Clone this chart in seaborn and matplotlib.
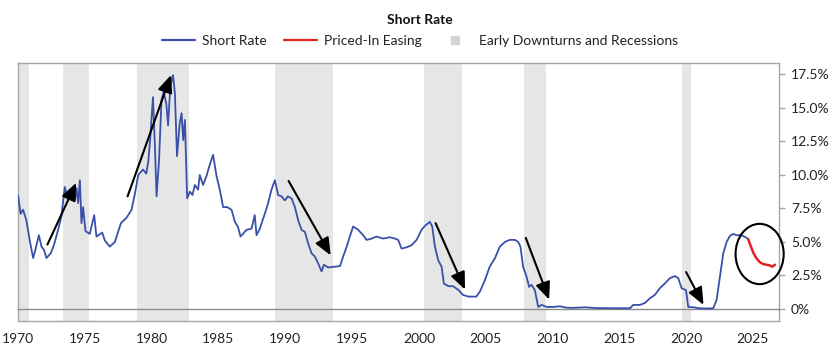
import matplotlib
matplotlib.use("Agg")
import matplotlib.pyplot as plt
from matplotlib.lines import Line2D
from matplotlib.patches import Ellipse
from matplotlib.ticker import FuncFormatter
import pandas as pd
import seaborn as sns

# short rate (year, %)
short_years = [
    1970.0, 1970.2, 1970.38, 1970.63, 1970.88, 1971.13, 1971.3, 1971.56, 1971.76, 1971.95,
    1972.13, 1972.45, 1972.7, 1973.0, 1973.25, 1973.5, 1973.75, 1974.0, 1974.25, 1974.38,
    1974.5, 1974.63, 1974.75, 1974.87, 1975.05, 1975.37, 1975.7, 1975.87, 1976.3, 1976.5,
    1976.87, 1977.25, 1977.7, 1978.12, 1978.5, 1978.75, 1979.0, 1979.36, 1979.6, 1979.75,
    1979.9, 1980.1, 1980.25, 1980.37, 1980.55, 1980.74, 1980.9, 1981.1, 1981.23, 1981.4,
    1981.6, 1981.74, 1981.9, 1982.1, 1982.24, 1982.36, 1982.49, 1982.66, 1982.86, 1983.06,
    1983.23, 1983.48, 1983.6, 1983.85, 1984.1, 1984.3, 1984.6, 1984.86, 1985.1, 1985.35,
    1985.65, 1985.98, 1986.23, 1986.47, 1986.65, 1987.1, 1987.48, 1987.72, 1987.85, 1988.1,
    1988.47, 1988.72, 1988.97, 1989.22, 1989.47, 1989.72, 1989.97, 1990.2, 1990.47, 1990.72,
    1990.97, 1991.22, 1991.47, 1991.71, 1991.97, 1992.22, 1992.46, 1992.72, 1992.89, 1993.2,
    1993.7, 1994.1, 1994.33, 1994.6, 1994.83, 1995.08, 1995.46, 1995.83, 1996.08, 1996.46,
    1996.83, 1997.33, 1997.83, 1998.2, 1998.45, 1998.7, 1999.08, 1999.45, 1999.83, 2000.2,
    2000.45, 2000.82, 2001.0, 2001.2, 2001.44, 2001.7, 2001.87, 2002.2, 2002.56, 2002.97,
    2003.3, 2003.7, 2004.3, 2004.57, 2004.94, 2005.3, 2005.7, 2006.06, 2006.44, 2006.8,
    2007.2, 2007.43, 2007.6, 2007.8, 2008.06, 2008.25, 2008.43, 2008.68, 2008.93, 2009.18,
    2009.56, 2010.05, 2010.55, 2011.0, 2011.5, 2012.0, 2012.5, 2013.0, 2013.5, 2014.0,
    2014.5, 2015.0, 2015.8, 2016.04, 2016.54, 2016.92, 2017.3, 2017.66, 2018.04, 2018.41,
    2018.79, 2019.16, 2019.41, 2019.66, 2019.99, 2020.16, 2020.56, 2021.0, 2021.56, 2022.03,
    2022.28, 2022.53, 2022.78, 2023.03, 2023.28, 2023.53, 2023.78, 2024.15, 2024.45, 2024.65,
]
short_rates = [
    8.5, 7.1, 7.4, 6.6, 5.1, 3.8, 4.4, 5.5, 4.65, 4.4,
    3.8, 4.15, 4.8, 5.9, 6.9, 9.1, 8.1, 8.6, 8.1, 9.0,
    7.9, 9.6, 6.4, 7.6, 5.8, 5.6, 7.0, 5.4, 5.7, 5.1,
    4.65, 5.0, 6.4, 6.8, 7.4, 8.6, 10.0, 10.4, 10.1, 11.0,
    12.8, 15.8, 12.0, 8.4, 11.0, 15.6, 16.2, 15.3, 13.7, 16.6,
    17.45, 16.1, 11.4, 13.85, 14.6, 12.6, 14.1, 8.25, 8.75, 8.5,
    9.25, 8.9, 10.0, 9.25, 9.9, 10.6, 11.5, 9.9, 8.9, 7.6,
    7.6, 7.4, 6.5, 6.1, 5.4, 5.9, 6.0, 7.0, 5.5, 6.0,
    7.1, 7.9, 8.9, 9.6, 8.5, 8.4, 8.1, 8.4, 8.25, 7.6,
    6.6, 5.9, 5.75, 4.9, 4.15, 3.9, 3.4, 2.8, 3.3, 3.1,
    3.15, 3.2, 3.9, 4.65, 5.4, 6.15, 5.9, 5.5, 5.15, 5.25,
    5.4, 5.25, 5.35, 5.25, 5.15, 4.5, 4.6, 4.75, 5.15, 5.9,
    6.2, 6.5, 6.15, 4.65, 3.65, 3.15, 1.9, 1.7, 1.7, 1.4,
    1.05, 0.92, 0.92, 1.3, 2.15, 3.15, 3.8, 4.65, 5.0, 5.15,
    5.15, 5.0, 4.65, 3.15, 2.4, 1.65, 1.8, 1.4, 0.15, 0.3,
    0.15, 0.15, 0.2, 0.1, 0.08, 0.1, 0.12, 0.08, 0.06, 0.06,
    0.05, 0.05, 0.05, 0.3, 0.3, 0.45, 0.8, 1.05, 1.55, 1.9,
    2.3, 2.45, 2.3, 1.55, 1.4, 0.15, 0.12, 0.05, 0.03, 0.05,
    0.67, 2.4, 4.15, 5.0, 5.45, 5.6, 5.5, 5.5, 5.35, 5.2,
]

# market-implied path
easing_years = [2024.65, 2024.85, 2025.05, 2025.25, 2025.5, 2025.75, 2026.0, 2026.25, 2026.45, 2026.65]
easing_rates = [5.2, 4.65, 4.15, 3.8, 3.5, 3.35, 3.3, 3.25, 3.15, 3.3]

# early downturns and recessions
recession_starts = [1970.0, 1973.35, 1978.9, 1989.2, 2000.4, 2007.85, 2019.7]
recession_ends = [1970.8, 1975.3, 1982.76, 1993.6, 2003.25, 2009.55, 2020.35]

# arrows: (start year, start %, tip year, tip %)
arrows = [
    (1972.2, 4.8, 1974.35, 9.4),
    (1978.2, 8.4, 1981.45, 17.45),
    (1990.25, 9.55, 1993.4, 4.0),
    (2001.25, 6.4, 2003.45, 1.45),
    (2008.0, 5.3, 2009.75, 0.7),
    (2020.0, 2.75, 2021.3, 0.3),
]

BLUE = "#3a50a9"
RED = "#e0231c"
SHADE = "#e6e6e6"
FRAME = "#a6a6a6"

sns.set_style("white")
plt.rcParams["font.family"] = ["Lato", "DejaVu Sans"]

fig = plt.figure(figsize=(8.4, 3.58), dpi=100)
ax = fig.add_axes([18 / 840, 1 - 321 / 358, (779 - 18) / 840, (321 - 63) / 358])

for s, e in zip(recession_starts, recession_ends):
    ax.axvspan(s, e, color=SHADE, lw=0, zorder=0)

short_df = pd.DataFrame({"year": short_years, "rate": short_rates})
easing_df = pd.DataFrame({"year": easing_years, "rate": easing_rates})
sns.lineplot(data=short_df, x="year", y="rate", color=BLUE, lw=1.3, estimator=None, ax=ax, zorder=3)
sns.lineplot(data=easing_df, x="year", y="rate", color=RED, lw=1.8, estimator=None, ax=ax, zorder=4)

for x0, y0, x1, y1 in arrows:
    ax.annotate("", xy=(x1, y1), xytext=(x0, y0),
                arrowprops=dict(arrowstyle="-|>,head_length=0.7,head_width=0.3",
                                color="black", lw=1.5, mutation_scale=15,
                                shrinkA=0, shrinkB=0), zorder=5)

ax.add_patch(Ellipse((2025.5, 4.1), 3.6, 4.5, fill=False, ec="black", lw=1.5,
                     clip_on=False, zorder=6))

ax.set_xlim(1970, 2026.95)
ax.set_ylim(-0.9, 18.35)
ax.set_xticks(range(1970, 2026, 5))
ax.set_yticks([0, 2.5, 5, 7.5, 10, 12.5, 15, 17.5])
ax.yaxis.set_major_formatter(FuncFormatter(lambda v, _: "0%" if v == 0 else f"{v:.1f}%"))
ax.set_xlabel("")
ax.set_ylabel("")

# zero line carries the x ticks, frame bottom drawn separately
ax.spines["bottom"].set_position(("data", 0))
for side in ["top", "left", "right", "bottom"]:
    ax.spines[side].set_color(FRAME)
    ax.spines[side].set_linewidth(1)
ax.spines["bottom"].set_color("#8c8c8c")
ax.plot([0, 1], [0, 0], transform=ax.transAxes, color=FRAME, lw=1, clip_on=False)

ax.yaxis.tick_right()
ax.tick_params(axis="y", direction="out", length=4.5, width=1, color=FRAME,
               labelsize=10, labelcolor="#222222", pad=4)
ax.tick_params(axis="x", direction="out", length=5.5, width=1, color=FRAME,
               labelsize=10, labelcolor="#222222", pad=12)

fig.text(0.5, 1 - 20 / 358, "Short Rate", ha="center", va="center",
         fontsize=10, fontweight="bold", color="#111111")

handles = [
    Line2D([], [], color=BLUE, lw=1.6),
    Line2D([], [], color=RED, lw=1.6),
    Line2D([], [], marker="s", ls="none", color="#d4d4d4", markersize=6),
]
labels = ["Short Rate", "Priced-In Easing", "Early Downturns and Recessions"]
fig.legend(handles, labels, loc="center", bbox_to_anchor=(0.5, 1 - 41 / 358), ncol=3,
           frameon=False, fontsize=10, handlelength=2.4, columnspacing=1.2,
           handletextpad=0.5, labelcolor="#222222")

fig.savefig("out.png", dpi=100)
